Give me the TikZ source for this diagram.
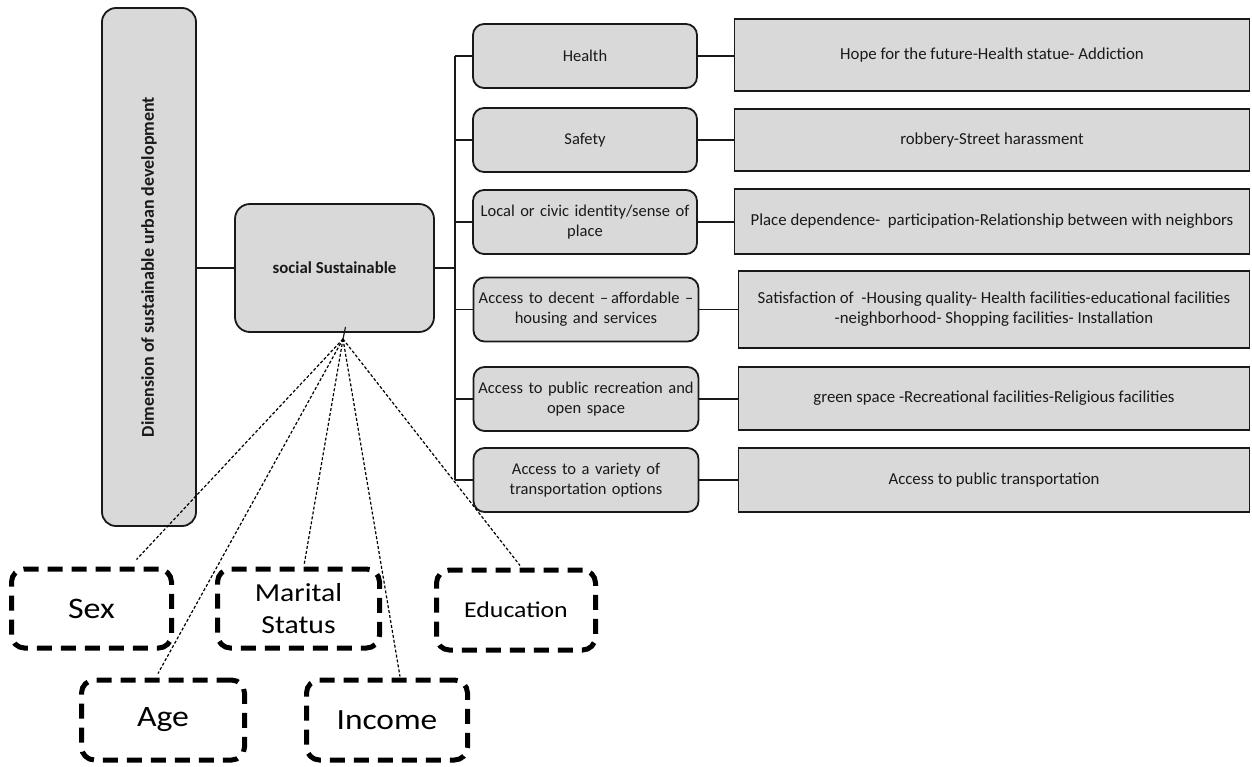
\documentclass[tikz,border=0pt]{standalone}
\usepackage{fontspec}
\setmainfont{Carlito}
\newfontfamily\widefont[FakeStretch=1.14]{Carlito}
\definecolor{boxgray}{RGB}{217,217,217}
\definecolor{ink}{RGB}{25,25,25}
\begin{document}
\begin{tikzpicture}[x=1pt,y=-1pt,
  rbox/.style={draw=ink,fill=boxgray,line width=1.8pt,rounded corners=11pt,align=center,text=ink,inner sep=2pt,font=\fontsize{16.5}{20}\selectfont},
  leftbox/.style={rbox,minimum width=222pt,minimum height=64pt,text width=220pt},
  rightbox/.style={draw=ink,fill=boxgray,line width=1.8pt,align=center,text=ink,inner sep=2pt,font=\fontsize{16.8}{20}\selectfont},
  demo/.style={draw=black,line width=5pt,dash pattern=on 15pt off 9pt,rounded corners=13pt,align=center,inner sep=2pt,text=black},
  conn/.style={draw=ink,line width=1.3pt},
  dots/.style={draw=black,line width=1.2pt,dash pattern=on 3pt off 2pt}
]
\useasboundingbox (0,0) rectangle (1252,766);

% main boxes
\node[rbox,rounded corners=14pt,minimum width=94pt,minimum height=518pt] (dim) at (149,267) {};
\node[rotate=90,text=ink,font=\bfseries\fontsize{18}{21}\selectfont] (dimtxt) at (149,267) {Dimension of sustainable urban development};
\node[rbox,rounded corners=15pt,minimum width=199pt,minimum height=128pt,font=\bfseries\fontsize{16.8}{20}\selectfont] (soc) at (334.5,268) {social Sustainable};

% left boxes
\node[leftbox] (l1) at (585,56) {Health};
\node[leftbox] (l2) at (585,140) {Safety};
\node[leftbox] (l3) at (585,222) {Local or civic identity/sense of\\place};
\node[leftbox,minimum width=225pt] (l4) at (586,309.5) {Access to decent --\,affordable --\\housing and services};
\node[leftbox,minimum width=225pt] (l5) at (586,399) {Access to public recreation and\\open space};
\node[leftbox,minimum width=225pt] (l6) at (586,480) {Access to a variety of\\transportation options};

% right boxes
\node[rightbox,minimum width=515pt,minimum height=72pt] (r1) at (992,55) {Hope for the future-Health statue- Addiction};
\node[rightbox,minimum width=515pt,minimum height=62pt] (r2) at (992,140) {robbery-Street harassment};
\node[rightbox,minimum width=515pt,minimum height=65pt] (r3) at (992,221.5) {Place dependence-\ \ participation-Relationship between with neighbors};
\node[rightbox,minimum width=511pt,minimum height=77pt] (r4) at (994,309.5) {Satisfaction of\ \ -Housing quality- Health facilities-educational facilities\\-neighborhood- Shopping facilities- Installation};
\node[rightbox,minimum width=511pt,minimum height=63pt] (r5) at (994,398.5) {green space -Recreational facilities-Religious facilities};
\node[rightbox,minimum width=511pt,minimum height=64pt] (r6) at (994,480) {Access to public transportation};

% connectors
\coordinate (trunktop) at (455,56);
\coordinate (trunkbot) at (455,480);
\coordinate (trunkmid) at (455,268);
\draw[conn] (dim.east |- soc.west) -- (soc.west);
\draw[conn] (soc.east) -- (trunkmid);
\draw[conn] (trunktop) -- (trunkbot);
\foreach \n in {l1,l2,l3,l4,l5,l6} {\draw[conn] (\n.west -| trunkbot) -- (\n.west);}
\draw[conn] (l1.east) -- (r1.west |- l1.east);
\draw[conn] (l2.east) -- (r2.west |- l2.east);
\draw[conn] (l3.east) -- (r3.west |- l3.east);
\draw[conn] (l4.east) -- (r4.west |- l4.east);
\draw[conn] (l5.east) -- (r5.west |- l5.east);
\draw[conn] (l6.east) -- (r6.west |- l6.east);

% demographic boxes
\node[demo,minimum width=160pt,minimum height=79pt,font=\widefont\fontsize{29.8}{33}\selectfont] (sex) at (91.5,608.5) {Sex};
\node[demo,minimum width=162pt,minimum height=79pt,font=\widefont\fontsize{26}{32}\selectfont] (mar) at (298.5,608.5) {Marital\\Status};
\node[demo,minimum width=159pt,minimum height=80pt,font=\widefont\fontsize{22.6}{26}\selectfont] (edu) at (516,610) {Education};
\node[demo,minimum width=163pt,minimum height=80pt,font=\widefont\fontsize{29.6}{33}\selectfont] (age) at (163,720) {Age};
\node[demo,minimum width=161pt,minimum height=80pt,font=\widefont\fontsize{29.3}{33}\selectfont] (inc) at (387,720) {Income};

% dotted connectors
\coordinate (conv) at (343,339);
\draw[line width=1.2pt,ink] ([xshift=11pt,yshift=6pt]soc.south) -- (conv);
\draw[dots] (conv) -- ([xshift=45pt,yshift=7pt]sex.north);
\draw[dots] (conv) -- ([xshift=-5pt,yshift=4pt]age.north);
\draw[dots] (conv) -- ([xshift=5.5pt,yshift=1pt]mar.north);
\draw[dots] (conv) -- ([xshift=13pt,yshift=1pt]inc.north);
\draw[dots] (conv) -- ([xshift=4pt,yshift=2pt]edu.north);
\end{tikzpicture}
\end{document}
